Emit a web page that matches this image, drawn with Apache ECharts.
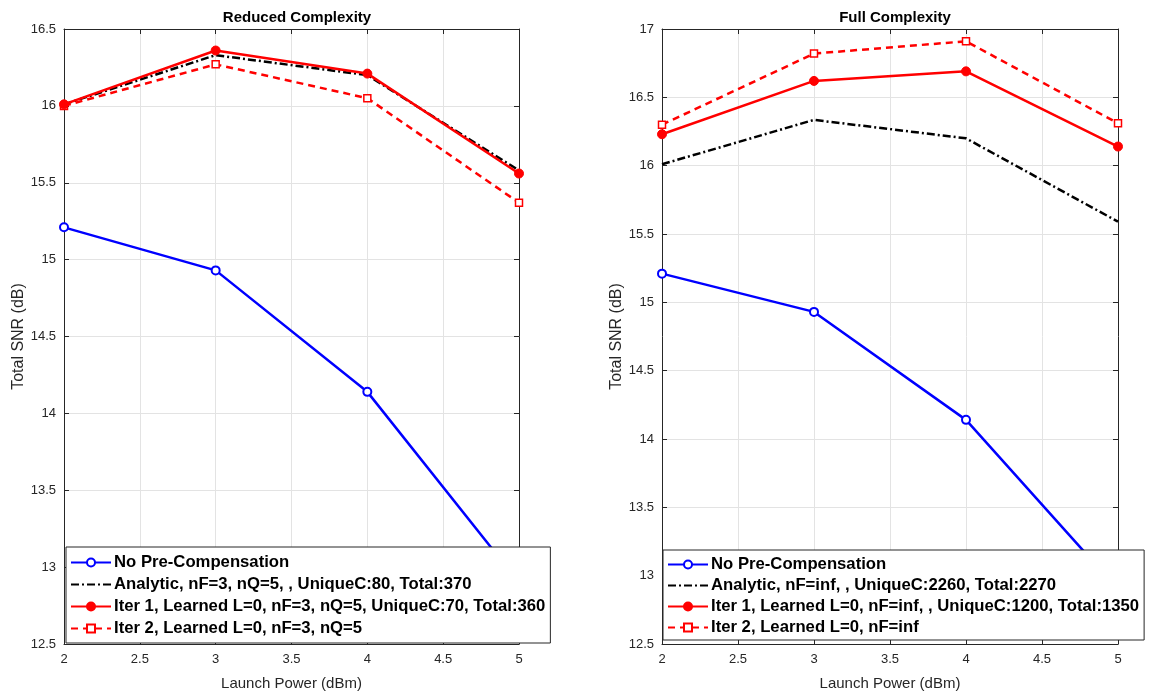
<!DOCTYPE html>
<html>
<head>
<meta charset="utf-8">
<script src="https://cdn.jsdelivr.net/npm/echarts@6/dist/echarts.min.js"></script>
<style>
html,body{margin:0;padding:0;background:#fff;}
#chart{width:1158px;height:696px;}
</style>
</head>
<body>
<div id="chart"></div>
<script>
// Launch power sweep (dBm)
const launchPower = [2, 3, 4, 5];

// Reduced complexity panel
const noPreComp = [15.21, 14.93, 14.14, 12.9];
const analyticReduced = [16.01, 16.33, 16.2, 15.58];
const iter1Reduced = [16.01, 16.36, 16.21, 15.56];
const iter2Reduced = [16.0, 16.27, 16.05, 15.37];

// Full complexity panel
const analyticFull = [16.01, 16.335, 16.2, 15.59];
const iter1Full = [16.23, 16.62, 16.69, 16.14];
const iter2Full = [16.3, 16.82, 16.91, 16.31];

// Legend labels
const namesReduced = [
  'No Pre-Compensation',
  'Analytic, nF=3, nQ=5, , UniqueC:80, Total:370',
  'Iter 1, Learned L=0, nF=3, nQ=5, UniqueC:70, Total:360',
  'Iter 2, Learned L=0, nF=3, nQ=5'
];
const namesFull = [
  'No Pre-Compensation',
  'Analytic, nF=inf, , UniqueC:2260, Total:2270',
  'Iter 1, Learned L=0, nF=inf, , UniqueC:1200, Total:1350',
  'Iter 2, Learned L=0, nF=inf'
];

const FONT = '"Liberation Sans", Arial, Helvetica, sans-serif';
const AX = '#262626';

const pairs = ys => launchPower.map((x, i) => [x, ys[i]]);

function styles(kind) {
  if (kind === 'blue') return {
    symbol: 'circle', symbolSize: 8,
    itemStyle: { color: '#fff', borderColor: '#0000ff', borderWidth: 2 },
    lineStyle: { color: '#0000ff', width: 2.5, type: 'solid' }
  };
  if (kind === 'analytic') return {
    symbol: 'circle', symbolSize: 0, showSymbol: false,
    itemStyle: { color: '#000', opacity: 0 },
    lineStyle: { color: '#000', width: 2.5, type: [8, 3, 2, 3], opacity: 1 }
  };
  if (kind === 'iter1') return {
    symbol: 'circle', symbolSize: 9,
    itemStyle: { color: '#ff0000', borderColor: '#ff0000', borderWidth: 1 },
    lineStyle: { color: '#ff0000', width: 2.5, type: 'solid' }
  };
  return {
    symbol: 'rect', symbolSize: 7,
    itemStyle: { color: '#fff', borderColor: '#ff0000', borderWidth: 1.5 },
    lineStyle: { color: '#ff0000', width: 2.5, type: [7, 5] }
  };
}

function mkSeries(name, ys, kind, idx) {
  return Object.assign({
    type: 'line', name: name, data: pairs(ys),
    xAxisIndex: idx, yAxisIndex: idx, animation: false,
    emphasis: { disabled: true }, z: kind === 'iter1' ? 3 : 2
  }, styles(kind));
}

function xAx(idx) {
  return {
    type: 'value', gridIndex: idx, min: 2, max: 5, interval: 0.5,
    name: 'Launch Power (dBm)', nameLocation: 'middle', nameGap: 32,
    nameTextStyle: { fontFamily: FONT, fontSize: 15, color: AX },
    axisLine: { show: true, lineStyle: { color: AX } },
    axisTick: { show: true, inside: true, length: 5, lineStyle: { color: AX } },
    axisLabel: { fontFamily: FONT, fontSize: 13, color: AX, margin: 9 },
    splitLine: { show: true, lineStyle: { color: '#e3e3e3', width: 1 } }
  };
}
function xTop(idx) {
  return {
    type: 'value', gridIndex: idx, min: 2, max: 5, interval: 0.5, position: 'top',
    axisLine: { show: true, lineStyle: { color: AX } },
    axisTick: { show: true, inside: true, length: 5, lineStyle: { color: AX } },
    axisLabel: { show: false }, splitLine: { show: false }
  };
}
function yAx(idx, max) {
  return {
    type: 'value', gridIndex: idx, min: 12.5, max: max, interval: 0.5,
    name: 'Total SNR (dB)', nameLocation: 'middle', nameGap: 35,
    nameTextStyle: { fontFamily: FONT, fontSize: 16, color: AX },
    axisLine: { show: true, lineStyle: { color: AX } },
    axisTick: { show: true, inside: true, length: 5, lineStyle: { color: AX } },
    axisLabel: { fontFamily: FONT, fontSize: 13, color: AX, margin: 8,
      formatter: v => String(Math.round(v * 10) / 10) },
    splitLine: { show: true, lineStyle: { color: '#e3e3e3', width: 1 } }
  };
}
function yRight(idx, max) {
  return {
    type: 'value', gridIndex: idx, min: 12.5, max: max, interval: 0.5, position: 'right',
    axisLine: { show: true, lineStyle: { color: AX } },
    axisTick: { show: true, inside: true, length: 5, lineStyle: { color: AX } },
    axisLabel: { show: false }, splitLine: { show: false }
  };
}

function legend(names, left, top, pad, gap) {
  return {
    orient: 'vertical', left: left, top: top, data: names, z: 20,
    backgroundColor: '#fff', borderColor: AX, borderWidth: 1,
    padding: pad, itemGap: gap, itemWidth: 40, itemHeight: 10,
    selectedMode: false,
    textStyle: { fontFamily: FONT, fontSize: 16.7, fontWeight: 'bold', color: '#000', padding: [0, 0, 0, -2] }
  };
}

const chart = echarts.init(document.getElementById('chart'), null, { renderer: 'canvas' });
chart.setOption({
  backgroundColor: '#fff',
  animation: false,
  title: [
    { text: 'Reduced Complexity', left: 292, top: 5, textAlign: 'center',
      textStyle: { fontFamily: FONT, fontSize: 15, fontWeight: 'bold', color: '#000' } },
    { text: 'Full Complexity', left: 890, top: 5, textAlign: 'center',
      textStyle: { fontFamily: FONT, fontSize: 15, fontWeight: 'bold', color: '#000' } }
  ],
  grid: [
    { left: 64, top: 29, width: 455, height: 616 },
    { left: 662, top: 29, width: 456, height: 616 }
  ],
  xAxis: [xAx(0), xAx(1), xTop(0), xTop(1)],
  yAxis: [yAx(0, 16.5), yAx(1, 17), yRight(0, 16.5), yRight(1, 17)],
  legend: [
    legend(namesReduced, 66, 547, [7, 5, 6, 4], 5),
    legend(namesFull, 663, 550, [6, 5, 4, 4], 4)
  ],
  series: [
    mkSeries(namesReduced[0], noPreComp, 'blue', 0),
    mkSeries(namesReduced[1], analyticReduced, 'analytic', 0),
    mkSeries(namesReduced[2], iter1Reduced, 'iter1', 0),
    mkSeries(namesReduced[3], iter2Reduced, 'iter2', 0),
    mkSeries(namesFull[0], noPreComp, 'blue', 1),
    mkSeries(namesFull[1], analyticFull, 'analytic', 1),
    mkSeries(namesFull[2], iter1Full, 'iter1', 1),
    mkSeries(namesFull[3], iter2Full, 'iter2', 1)
  ]
});
</script>
</body>
</html>
